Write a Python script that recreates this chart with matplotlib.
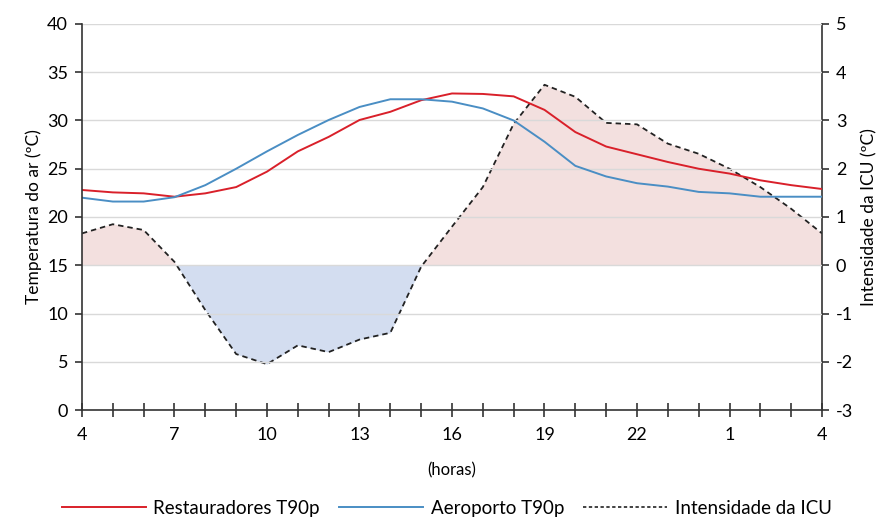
import matplotlib
matplotlib.use("Agg")
import matplotlib.pyplot as plt
import numpy as np

plt.rcParams['font.family'] = ['Lato', 'DejaVu Sans']
plt.rcParams['axes.unicode_minus'] = False

hours = list(range(25))  # 4h .. 4h next day
hour_labels = ['4', '7', '10', '13', '16', '19', '22', '1', '4']

restauradores = [22.8, 22.55, 22.45, 22.1, 22.45, 23.1, 24.7, 26.8, 28.3, 30.05, 30.9, 32.1, 32.8,
                 32.75, 32.5, 31.1, 28.8, 27.3, 26.5, 25.7, 25.0, 24.5, 23.8, 23.3, 22.9]
aeroporto = [22.0, 21.6, 21.6, 22.05, 23.3, 25.0, 26.8, 28.5, 30.05, 31.4, 32.2, 32.2, 31.95,
             31.25, 30.0, 27.8, 25.3, 24.2, 23.5, 23.15, 22.6, 22.45, 22.1, 22.1, 22.1]
icu = [0.66, 0.85, 0.73, 0.07, -0.93, -1.84, -2.05, -1.66, -1.8, -1.54, -1.4, -0.03, 0.8,
       1.62, 2.93, 3.74, 3.49, 2.95, 2.92, 2.52, 2.31, 2.0, 1.62, 1.17, 0.66]

fig = plt.figure(figsize=(8.93, 5.19), dpi=100)
ax = fig.add_axes([0.0918, 0.21, 0.8287, 0.7438])
ax2 = ax.twinx()
ax.set_zorder(ax2.get_zorder() + 1)
ax.patch.set_visible(False)

x = np.array(hours, dtype=float)
y = np.array(icu)
ax2.fill_between(x, y, 0, where=y >= 0, interpolate=True, color='#f3e0df', linewidth=0)
ax2.fill_between(x, y, 0, where=y <= 0, interpolate=True, color='#d3ddf0', linewidth=0)
ax2.plot(x, y, color='#222222', linestyle=(0, (3, 2.2)), linewidth=1.3)

l1, = ax.plot(hours, restauradores, color='#d9202a', linewidth=1.4, label='Restauradores T90p')
l2, = ax.plot(hours, aeroporto, color='#4a8ec4', linewidth=1.4, label='Aeroporto T90p')
l3, = ax.plot([], [], color='#222222', linestyle=(0, (2, 1.5)), linewidth=1.2, label='Intensidade da ICU')

ax.set_xlim(0, 24)
ax.set_ylim(0, 40)
ax.set_yticks(range(0, 41, 5))
ax2.set_ylim(-3, 5)
ax2.set_yticks(range(-3, 6))
ax.set_xticks(hours, minor=True)
ax.set_xticks(range(0, 25, 3))
ax.set_xticklabels(hour_labels)

ax.grid(axis='y', color='#d9d9d9', linewidth=1)
ax.set_axisbelow(True)

for a in (ax, ax2):
    a.spines['top'].set_visible(False)
    for s in ('left', 'right', 'bottom'):
        a.spines[s].set_color('#333333')
        a.spines[s].set_linewidth(1.2)
ax.spines['right'].set_visible(False)
ax2.spines['left'].set_visible(False)
ax2.spines['bottom'].set_visible(False)

ax.tick_params(axis='x', which='both', direction='inout', length=10, width=1.2, color='#333333',
               labelsize=13, pad=7)
ax.tick_params(axis='y', direction='out', length=5, width=1.2, color='#333333', labelsize=13, pad=5)
ax2.tick_params(axis='y', direction='out', length=5, width=1.2, color='#333333', labelsize=13, pad=5)

ax.set_ylabel('Temperatura do ar (ºC)', fontsize=12.5, labelpad=4)
ax2.set_ylabel('Intensidade da ICU (ºC)', fontsize=12.5, labelpad=6)
ax.set_xlabel('(horas)', fontsize=12, labelpad=14)

fig.legend(handles=[l1, l2, l3], loc='lower center', bbox_to_anchor=(0.5, -0.028), ncol=3,
           frameon=False, fontsize=13.5, handlelength=4.5, columnspacing=1.0, handletextpad=0.4)

fig.savefig('out.png', dpi=100)
